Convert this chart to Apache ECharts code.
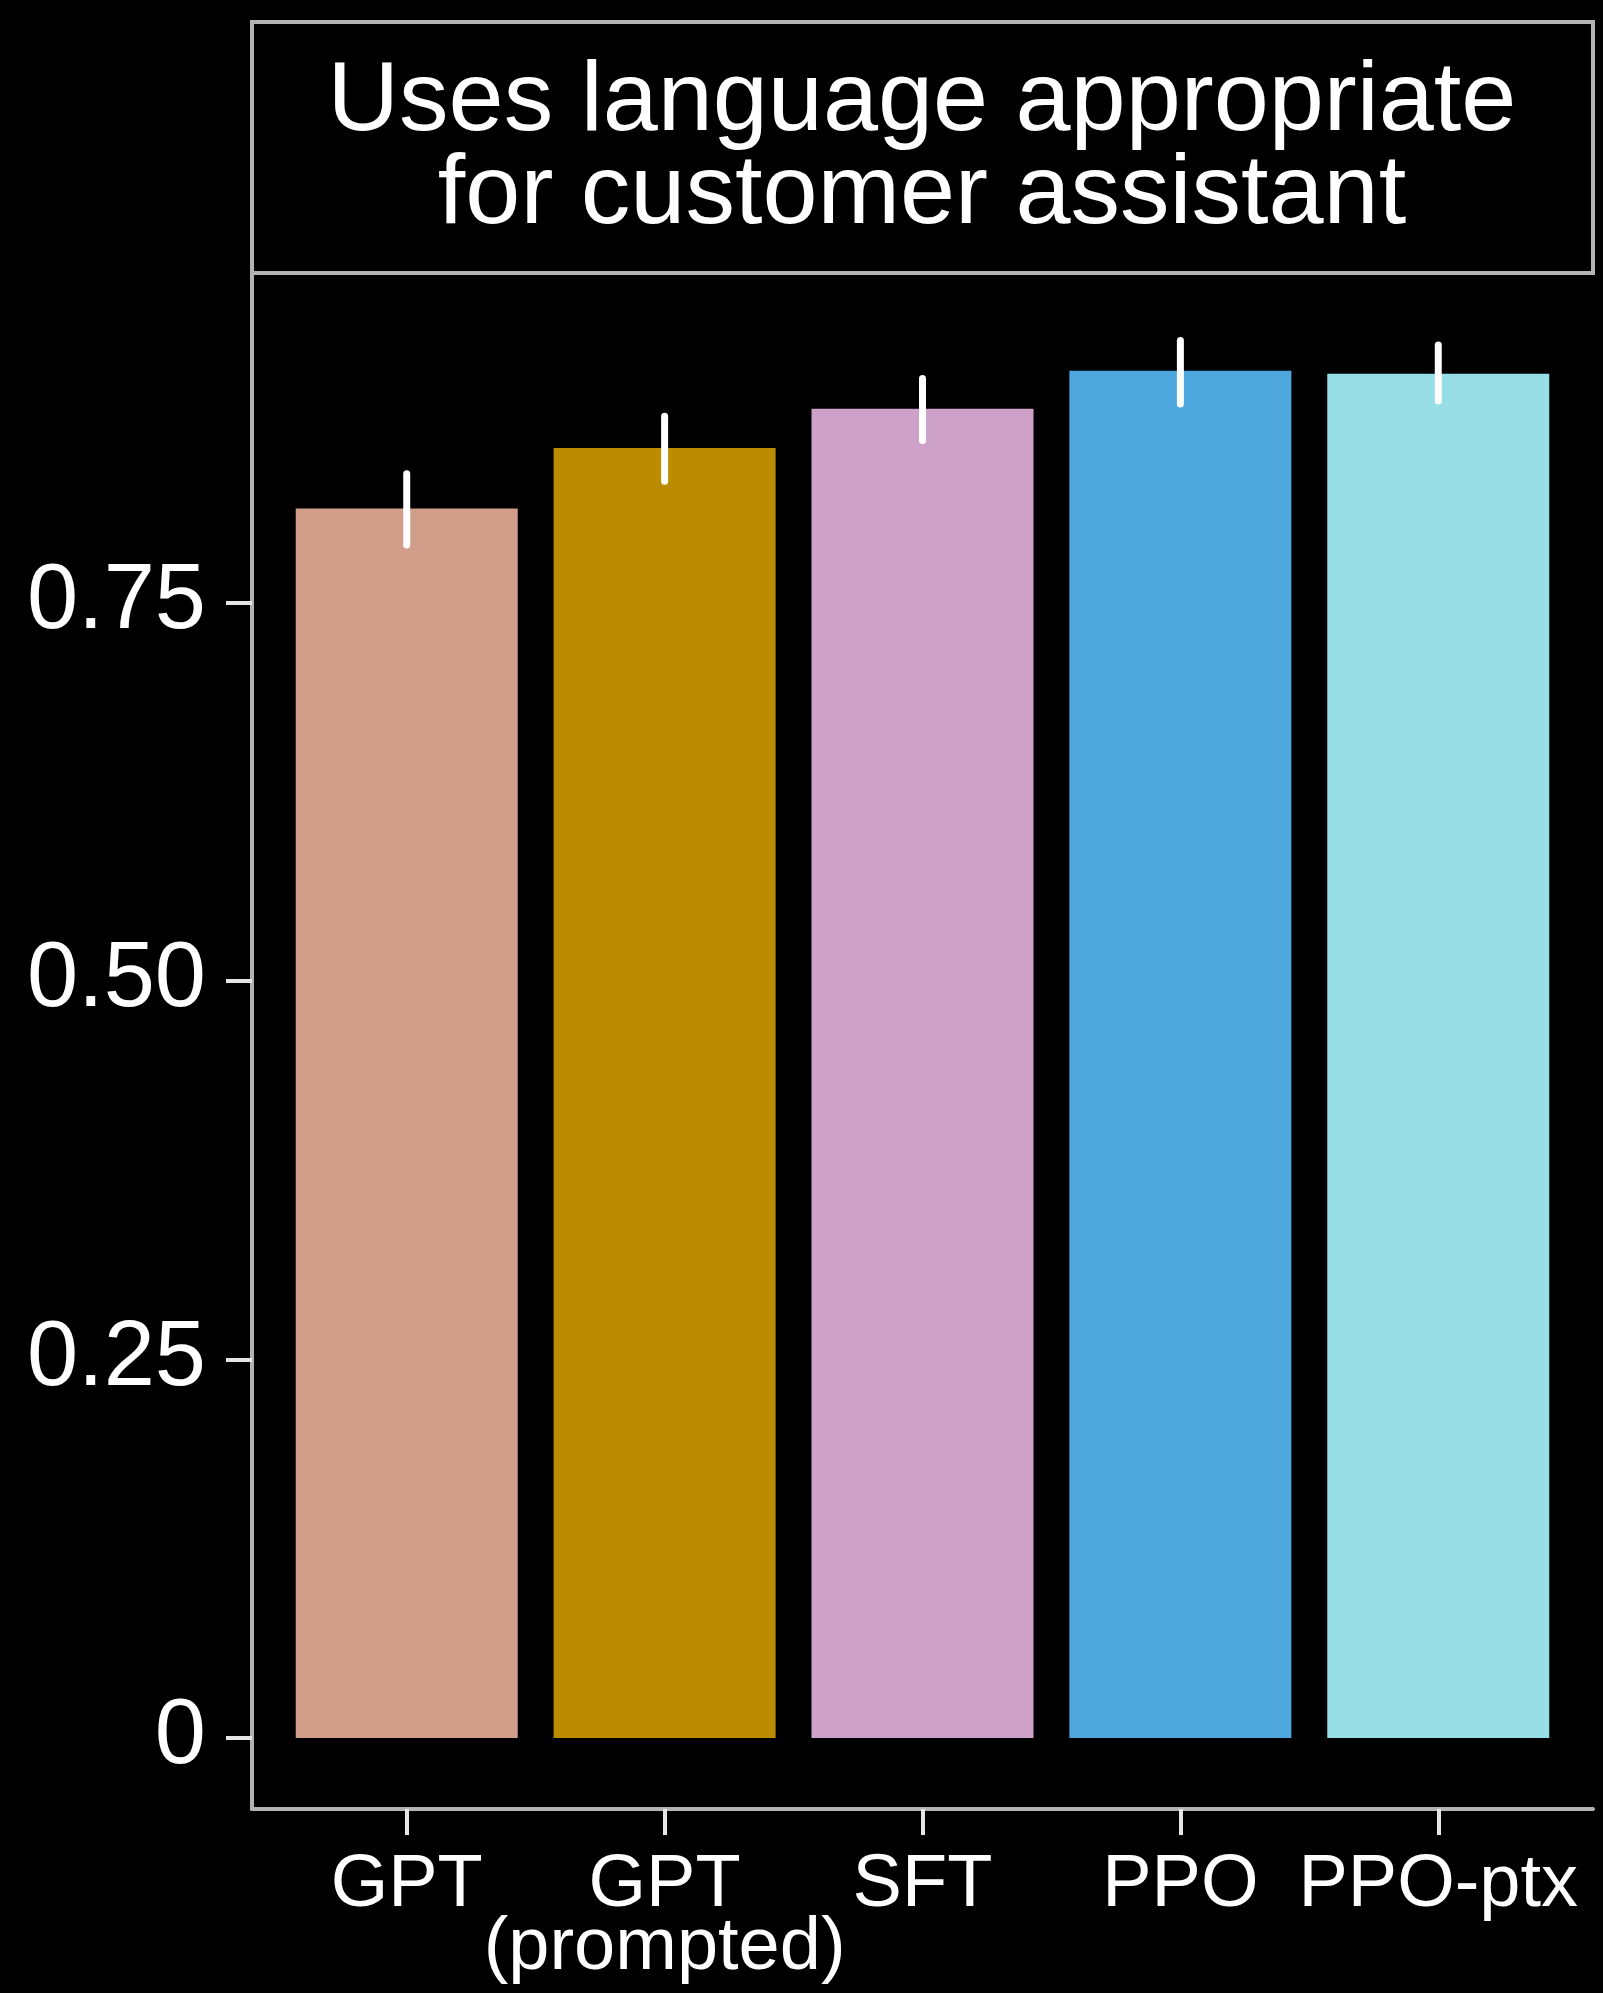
<!DOCTYPE html>
<html>
<head>
<meta charset="utf-8">
<script src="https://cdn.jsdelivr.net/npm/echarts@6/dist/echarts.min.js"></script>
<style>
  html, body { margin: 0; padding: 0; background: #000; }
  #chart { width: 1603px; height: 1993px; }
</style>
</head>
<body>
<div id="chart"></div>
<script>
// Models compared and their mean rating for the attribute, with error bar bounds
const categories = ['GPT', 'GPT\n(prompted)', 'SFT', 'PPO', 'PPO-ptx'];
const means = [0.812, 0.852, 0.878, 0.903, 0.901];
const lows = [0.788, 0.830, 0.857, 0.881, 0.883];
const highs = [0.835, 0.873, 0.898, 0.923, 0.920];
const barColors = ['#d39e89', '#bb8c00', '#cea1c9', '#4fa8dd', '#97dee7'];
const yTicks = [0, 0.25, 0.5, 0.75];
const yTickLabels = ['0', '0.25', '0.50', '0.75'];
const panelTitle = 'Uses language appropriate\nfor customer assistant';

const FONT = "'Liberation Sans', Arial, Helvetica, sans-serif";
const AXIS_GREY = '#b3b3b3';

const positions = categories.map((_, i) => i);
const barData = means.map((v, i) => ({
  value: [i, v],
  itemStyle: { color: barColors[i] }
}));
const errData = lows.map((lo, i) => [i, lo, highs[i]]);

const chart = echarts.init(document.getElementById('chart'), null, { renderer: 'canvas' });

chart.setOption({
  backgroundColor: '#000',
  animation: false,
  grid: { left: 252, right: 10, top: 273, bottom: 184, containLabel: false },
  xAxis: {
    type: 'value',
    min: -0.6,
    max: 4.6,
    splitLine: { show: false },
    axisLine: { show: true, onZero: false, lineStyle: { color: AXIS_GREY, width: 4 } },
    axisTick: {
      show: true, customValues: positions, length: 26,
      lineStyle: { color: '#e6e6e6', width: 4 }
    },
    axisLabel: {
      customValues: positions,
      showMinLabel: true,
      showMaxLabel: true,
      hideOverlap: false,
      formatter: v => categories[Math.round(v)],
      color: '#fff', fontFamily: FONT, fontSize: 74, lineHeight: 63, margin: 45
    }
  },
  yAxis: {
    type: 'value',
    min: -0.0469,
    max: 0.9676,
    splitLine: { show: false },
    axisLine: { show: true, onZero: false, lineStyle: { color: AXIS_GREY, width: 4 } },
    axisTick: {
      show: true, customValues: yTicks, length: 26,
      lineStyle: { color: '#e6e6e6', width: 4 }
    },
    axisLabel: {
      customValues: yTicks,
      showMinLabel: true,
      showMaxLabel: true,
      hideOverlap: false,
      formatter: v => yTickLabels[yTicks.findIndex(t => Math.abs(t - v) < 1e-6)],
      color: '#fff', fontFamily: FONT, fontSize: 92, margin: 46
    }
  },
  graphic: [
    {
      type: 'rect',
      shape: { x: 252, y: 22, width: 1341, height: 251 },
      style: { fill: 'none', stroke: AXIS_GREY, lineWidth: 4 },
      z: 10
    },
    {
      type: 'text',
      x: 922, y: 149,
      style: {
        text: panelTitle,
        fill: '#fff',
        font: "99px " + FONT,
        lineHeight: 93,
        align: 'center',
        verticalAlign: 'middle'
      },
      z: 10
    }
  ],
  series: [
    {
      type: 'bar',
      data: barData,
      barWidth: 222,
      z: 2
    },
    {
      type: 'custom',
      data: errData,
      z: 5,
      renderItem: (params, api) => {
        const p1 = api.coord([api.value(0), api.value(1)]);
        const p2 = api.coord([api.value(0), api.value(2)]);
        return {
          type: 'line',
          shape: { x1: p1[0], y1: p1[1], x2: p2[0], y2: p2[1] },
          style: { stroke: '#fff', lineWidth: 7, lineCap: 'round' }
        };
      }
    }
  ]
});
</script>
</body>
</html>
